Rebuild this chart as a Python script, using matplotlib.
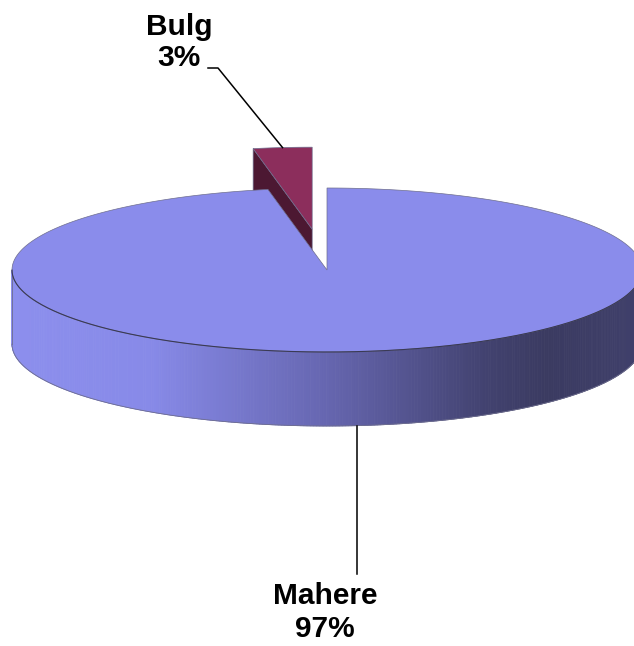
import numpy as np
import matplotlib
matplotlib.use("Agg")
import matplotlib.pyplot as plt
from matplotlib.patches import Polygon

# Chart data
categories = ["Mahere", "Bulg"]
values = [97, 3]
explode = [0.0, 0.5]

# Styling
top_colors = ["#8A8CEB", "#8C2E5C"]
face_colors = ["#5C5C9E", "#4C1832"]
edge_color = "#3A3A55"
soft_edge = "#6E6E8E"
# rim shading stops: (fraction across the pie from left to right, rgb)
rim_stops = [
    (0.00, (0.55, 0.56, 0.93)),
    (0.22, (0.53, 0.54, 0.91)),
    (0.50, (0.40, 0.40, 0.69)),
    (0.75, (0.26, 0.26, 0.44)),
    (0.85, (0.23, 0.23, 0.38)),
    (1.00, (0.25, 0.25, 0.42)),
]

W, H = 634, 646
fig = plt.figure(figsize=(W / 100, H / 100), dpi=100)
ax = fig.add_axes([0, 0, 1, 1])
ax.set_xlim(0, W)
ax.set_ylim(H, 0)
ax.axis("off")

cx, cy = 327, 270      # centre of the top face
a, b = 315, 82         # ellipse semi-axes
depth = 74             # thickness of the disc


def point(theta, r=1.0, ox=0.0, oy=0.0, z=0.0):
    t = np.radians(theta)
    return (cx + ox + r * a * np.cos(t), cy + oy - r * b * np.sin(t) + z)


def rim_color(x):
    f = (x - (cx - a)) / (2 * a)
    fs = [s[0] for s in rim_stops]
    return tuple(np.interp(f, fs, [s[1][i] for s in rim_stops]) for i in range(3))


# slice angles: first slice starts at 12 o'clock and runs clockwise
total = float(sum(values))
slices = []
ang = 90.0
for name, v, e in zip(categories, values, explode):
    span = 360.0 * v / total
    start, end = ang, ang - span
    mid = (start + end) / 2
    ox = e * a * np.cos(np.radians(mid))
    oy = -e * b * np.sin(np.radians(mid))
    slices.append(dict(name=name, value=v, start=start, end=end, mid=mid, ox=ox, oy=oy))
    ang = end

# draw the slices back to front (the exploded, rear slice first)
order = sorted(range(len(slices)), key=lambda i: slices[i]["oy"])
for i in order:
    s = slices[i]
    ox, oy = s["ox"], s["oy"]
    c0 = (cx + ox, cy + oy)

    # radial side faces that face the viewer
    for th, sign in ((s["start"], 1), (s["end"], -1)):
        c = np.cos(np.radians(th))
        if sign * c < -1e-9:
            p = point(th, 1, ox, oy)
            quad = [c0, p, (p[0], p[1] + depth), (c0[0], c0[1] + depth)]
            ax.add_patch(Polygon(quad, closed=True, facecolor=face_colors[i],
                                 edgecolor=soft_edge, lw=0.5, zorder=2))

    # outer rim (front half only) with horizontal shading
    thetas = np.linspace(s["end"], s["start"], 600)
    front = thetas[np.sin(np.radians(thetas)) < 0]
    if len(front) > 1:
        for t0, t1 in zip(front[:-1], front[1:]):
            p0 = point(t0, 1, ox, oy)
            p1 = point(t1, 1, ox, oy)
            col = rim_color((p0[0] + p1[0]) / 2) if i == 0 else face_colors[i]
            quad = [p0, p1, (p1[0], p1[1] + depth), (p0[0], p0[1] + depth)]
            ax.add_patch(Polygon(quad, closed=True, facecolor=col,
                                 edgecolor=col, lw=0.6, zorder=3))
        bottom = [point(t, 1, ox, oy, depth) for t in front]
        bx, by = zip(*bottom)
        ax.plot(bx, by, color=soft_edge, lw=0.6, zorder=4)
        pl = point(front[0], 1, ox, oy)
        pr = point(front[-1], 1, ox, oy)
        ax.plot([pl[0], pl[0]], [pl[1], pl[1] + depth], color=soft_edge, lw=0.6, zorder=4)
        ax.plot([pr[0], pr[0]], [pr[1], pr[1] + depth], color=soft_edge, lw=0.6, zorder=4)

    # top face
    arc = [point(t, 1, ox, oy) for t in np.linspace(s["start"], s["end"], 600)]
    top = [c0] + arc
    ax.add_patch(Polygon(top, closed=True, facecolor=top_colors[i],
                         edgecolor=soft_edge, lw=0.5, zorder=5))
    # darker seam where the top face meets the front rim
    if len(front) > 1:
        seam = [point(t, 1, ox, oy) for t in front]
        sx, sy = zip(*seam)
        ax.plot(sx, sy, color=edge_color, lw=0.8, zorder=6)

# data labels with leader lines
label_font = dict(family="Liberation Sans", weight="bold", size=21.5, color="black")
pct = [f"{round(100 * v / total):d}%" for v in values]

# Bulg: leader from the middle of its outer arc up to the label
s = slices[1]
tip = point(s["mid"], 1, s["ox"], s["oy"])
ax.plot([208, 218, tip[0]], [68, 68, tip[1]], color="black", lw=1.1, zorder=6)
ax.text(179, 27, categories[1], ha="center", va="center", zorder=7, **label_font)
ax.text(179, 58, pct[1], ha="center", va="center", zorder=7, **label_font)

# Mahere: leader from the bottom of the rim down to the label
s = slices[0]
foot = point(s["mid"], 1, s["ox"], s["oy"], depth)
ax.plot([foot[0], foot[0]], [foot[1], 574], color="black", lw=1.1, zorder=6)
ax.text(325, 596, categories[0], ha="center", va="center", zorder=7, **label_font)
ax.text(325, 629, pct[0], ha="center", va="center", zorder=7, **label_font)

fig.savefig("out.png", dpi=100, facecolor="white")
